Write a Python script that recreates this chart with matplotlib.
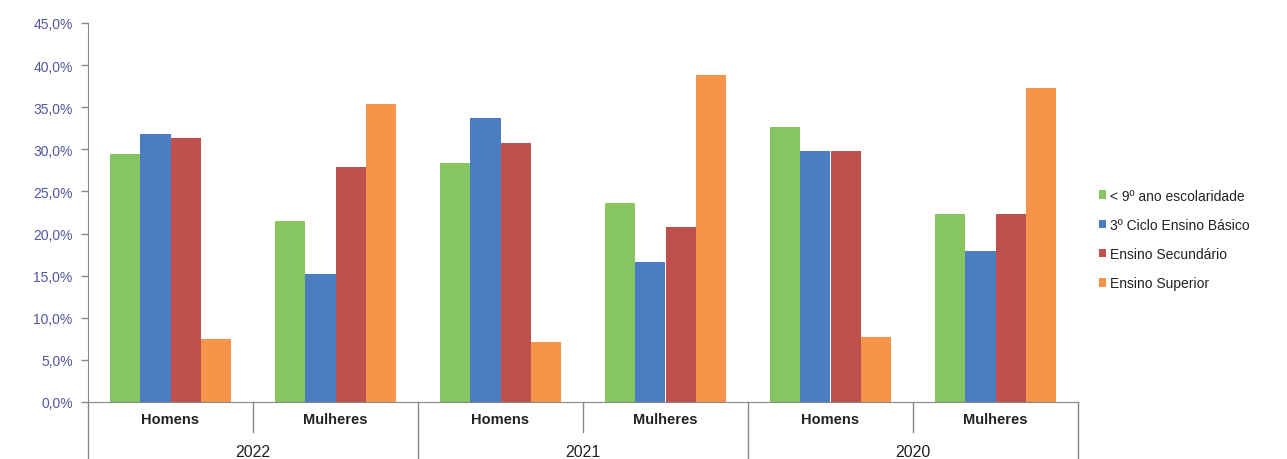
import numpy as np
import matplotlib.pyplot as plt
from matplotlib.lines import Line2D

plt.rcParams['font.family'] = ['Liberation Sans', 'DejaVu Sans']

# data: share by education level, per year and sex
years = ['2022', '2021', '2020']
sexes = ['Homens', 'Mulheres']
levels = ['< 9º ano escolaridade', '3º Ciclo Ensino Básico',
          'Ensino Secundário', 'Ensino Superior']
colors = ['#86C55F', '#4B7DC3', '#C0504D', '#F7944A']

below_9 = [29.4, 21.5, 28.4, 23.6, 32.7, 22.3]
ciclo3 = [31.8, 15.2, 33.7, 16.6, 29.8, 17.9]
secundario = [31.3, 27.9, 30.8, 20.8, 29.8, 22.3]
superior = [7.5, 35.4, 7.1, 38.8, 7.7, 37.3]
series = [below_9, ciclo3, secundario, superior]

fig = plt.figure(figsize=(12.87, 4.60), dpi=100)
ax = fig.add_axes([88/1287, 57/460, 990/1287, 379/460])

n = len(years) * len(sexes)
x = np.arange(n)
w = 0.182
for i, (vals, c, lab) in enumerate(zip(series, colors, levels)):
    ax.bar(x + (i - 1.5) * w, vals, width=w, color=c, label=lab)

ax.set_xlim(-0.5, n - 0.5)
ax.set_ylim(0, 45)
ax.set_yticks(np.arange(0, 46, 5))
ax.set_yticklabels([('%.1f%%' % v).replace('.', ',') for v in np.arange(0, 46, 5)],
                   color='#55559F', fontsize=10)
ax.tick_params(axis='y', length=5, color='#888888', width=1, pad=6)
ax.set_xticks([])
for s in ['top', 'right']:
    ax.spines[s].set_visible(False)
ax.spines['left'].set_color('#888888')
ax.spines['bottom'].set_color('#888888')

# two-level category axis below the bars
trans = ax.get_xaxis_transform()
ln_kw = dict(color='#888888', lw=1, transform=trans, clip_on=False)
for k in range(n + 1):
    xb = k - 0.5
    low = -0.152 if k % 2 == 0 else -0.078
    ax.add_line(Line2D([xb, xb], [0, low], **ln_kw))
for k in range(n):
    ax.text(k, -0.045, sexes[k % 2], transform=trans, ha='center', va='center',
            fontsize=10.5, fontweight='bold', color='#222222')
for j, yr in enumerate(years):
    ax.text(2 * j + 0.5, -0.13, yr, transform=trans, ha='center', va='center',
            fontsize=11.5, color='#222222')

leg = fig.legend(loc='upper left', bbox_to_anchor=(1093/1287, 1 - 184/460),
                 frameon=False, fontsize=10, handlelength=0.55, handleheight=0.55,
                 handletextpad=0.3, labelspacing=1.1, borderaxespad=0)
for t in leg.get_texts():
    t.set_color('#222222')

fig.savefig('out.png', dpi=100)
